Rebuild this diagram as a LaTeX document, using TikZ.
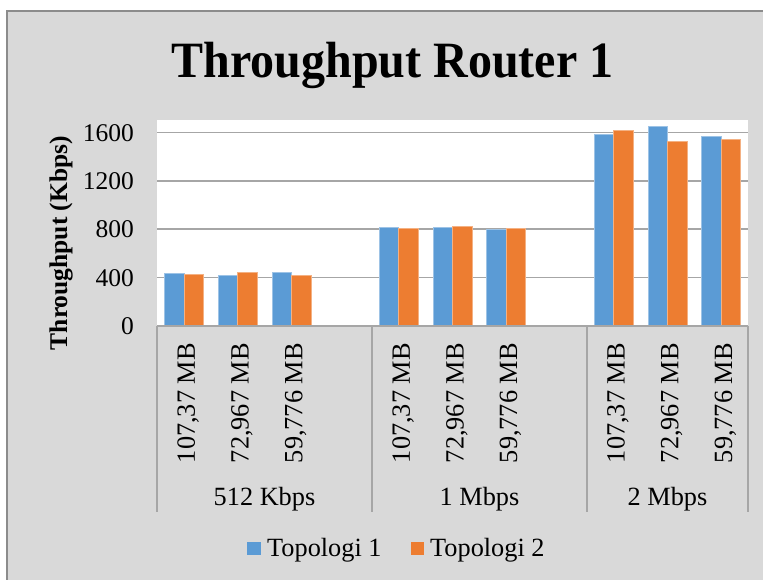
\documentclass[tikz,border=0pt]{standalone}
\usepackage{fontspec}
\setmainfont{Liberation Serif}
\definecolor{bgray}{HTML}{D9D9D9}
\definecolor{framegray}{HTML}{8C8C8C}
\definecolor{gridgray}{HTML}{A6A6A6}
\definecolor{tblue}{HTML}{5B9BD5}
\definecolor{torange}{HTML}{ED7D31}
\tikzset{
  txt/.style={font=\fontsize{26.3}{31}\selectfont, inner sep=0pt},
  ticklbl/.style={font=\fontsize{25.5}{30}\selectfont, inner sep=0pt, anchor=base east},
  catlbl/.style={txt, rotate=90, anchor=base east},
  grplbl/.style={txt, anchor=base},
  gridline/.style={draw=gridgray, line width=1.5pt},
  sepline/.style={draw=gridgray, line width=1.5pt},
  barA/.style={fill=tblue, draw=tblue!60!white, line width=0.6pt},
  barB/.style={fill=torange, draw=torange!60!white, line width=0.6pt},
}
\begin{document}
\begin{tikzpicture}[x=1pt,y=-1pt]
\useasboundingbox (0,0) rectangle (763,580);
% outer chart frame
\fill[white] (0,0) rectangle (763,580);
\filldraw[fill=bgray, draw=framegray, line width=1.2pt] (7,11) rectangle (775,595);
% title
\node[inner sep=0pt, anchor=base, font=\bfseries\fontsize{48}{56}\selectfont, yscale=1.06] (title) at (392.5,78) {Throughput Router 1};
% plot area
\fill[white] (157,120) rectangle (748,326);
\foreach \v in {400,800,1200,1600}{
  \draw[gridline] (157,{326-\v*0.121}) -- (748,{326-\v*0.121});
}
% bars
\foreach \k/\a/\b in {0/436/428, 1/422/441, 2/447/420, 4/816/808, 5/814/825, 6/800/806, 8/1583/1620, 9/1647/1523, 10/1568/1543}{
  \pgfmathsetmacro{\c}{157+53.727*(\k+0.5)}
  \filldraw[barA] ({\c-19.5},326) rectangle (\c,{326-\a*0.121});
  \filldraw[barB] (\c,326) rectangle ({\c+19.5},{326-\b*0.121});
}
% category axis
\draw[sepline] (157,326) -- (748,326);
\foreach \x in {157,372,587,748}{
  \draw[sepline] (\x,326) -- (\x,512);
}
% tick labels
\node[ticklbl] (t0) at (134,{326+8.7}) {0};
\node[ticklbl] (t400) at (134,{326-400*0.121+8.7}) {400};
\node[ticklbl] (t800) at (134,{326-800*0.121+8.7}) {800};
\node[ticklbl] (t1200) at (134,{326-1200*0.121+8.7}) {1200};
\node[ticklbl] (t1600) at (134,{326-1600*0.121+8.7}) {1600};
% y axis title
\node[inner sep=0pt, rotate=90, font=\bfseries\fontsize{25.5}{30}\selectfont] (ylab) at (61,243) {Throughput (Kbps)};
% category labels
\foreach \k/\t [count=\i] in {0/{107,37 MB}, 1/{72,967 MB}, 2/{59,776 MB}, 4/{107,37 MB}, 5/{72,967 MB}, 6/{59,776 MB}, 8/{107,37 MB}, 9/{72,967 MB}, 10/{59,776 MB}}{
  \pgfmathsetmacro{\c}{157+53.727*(\k+0.5)}
  \node[catlbl] (cat\i) at ({\c+11},343) {\t};
}
\node[grplbl] (g1) at (264.5,505) {512 Kbps};
\node[grplbl] (g2) at (479.5,505) {1 Mbps};
\node[grplbl] (g3) at (667.5,505) {2 Mbps};
% legend
\fill[tblue] (247,542) rectangle (261,555);
\node[txt, anchor=base west] (leg1) at (267,556.5) {Topologi 1};
\fill[torange] (411,542) rectangle (424,555);
\node[txt, anchor=base west] (leg2) at (430,556.5) {Topologi 2};
\end{tikzpicture}
\end{document}
